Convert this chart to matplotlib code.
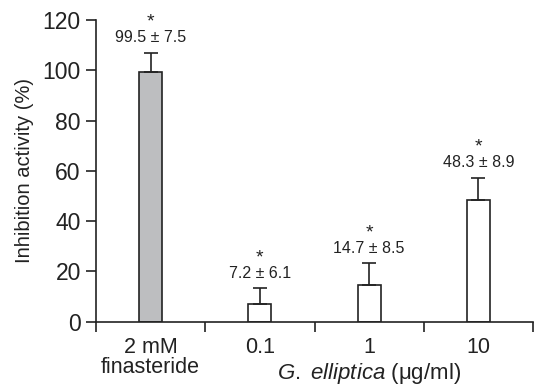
import matplotlib
matplotlib.use("Agg")
import matplotlib.pyplot as plt
from matplotlib.transforms import blended_transform_factory

plt.rcParams['font.family'] = ['Liberation Sans', 'DejaVu Sans']
plt.rcParams['mathtext.fontset'] = 'custom'
plt.rcParams['mathtext.rm'] = 'Liberation Sans'
plt.rcParams['mathtext.it'] = 'Liberation Sans:italic'

categories = ["2 mM\nfinasteride", "0.1", "1", "10"]
values = [99.5, 7.2, 14.7, 48.3]
errors = [7.5, 6.1, 8.5, 8.9]
colors = ["#bdbec0", "white", "white", "white"]
yticks = [0, 20, 40, 60, 80, 100, 120]

fig = plt.figure(figsize=(5.34, 3.91), dpi=100)
ax = fig.add_axes([0.18, 0.177, 0.818, 0.772])

x = list(range(len(categories)))
ax.bar(x, values, width=0.21, color=colors, edgecolor="#222222", linewidth=1.2,
       yerr=[[0]*len(values), errors], capsize=5,
       error_kw=dict(ecolor="#222222", elinewidth=1.2, capthick=1.2), zorder=2)

for xi, v, e in zip(x, values, errors):
    top = v + e
    ax.annotate(f"{v} ± {e}", (xi, top), xytext=(0, 5.5), textcoords="offset points",
                ha="center", va="bottom", fontsize=11.5, color="#222222", annotation_clip=False)
    ax.annotate("*", (xi, top), xytext=(0, 16), textcoords="offset points",
                ha="center", va="bottom", fontsize=14, color="#222222", annotation_clip=False)

ax.set_xlim(-0.5, 3.5)
ax.set_ylim(0, 120)
ax.set_yticks(yticks)
ax.set_xticks([-0.5, 0.5, 1.5, 2.5, 3.5])
ax.set_xticklabels([])
ax.set_xticks(x, minor=True)
ax.set_xticklabels(categories, minor=True, fontsize=15.5, color="#222222", linespacing=0.95)
ax.tick_params(axis="x", which="minor", length=0, pad=11)
ax.tick_params(axis="x", which="major", length=7, width=1.2, color="#222222", direction="out")
ax.tick_params(axis="y", length=7, width=1.2, color="#222222", labelsize=16.5, labelcolor="#222222", pad=4)

for s in ["top", "right"]:
    ax.spines[s].set_visible(False)
for s in ["left", "bottom"]:
    ax.spines[s].set_linewidth(1.2)
    ax.spines[s].set_color("#222222")

ax.set_ylabel("Inhibition activity (%)", fontsize=14.5, color="#222222", labelpad=6)

trans = blended_transform_factory(ax.transData, fig.transFigure)
ax.text(2, 1 - 374/391, r"$\it{G.}$ $\it{elliptica}$ (μg/ml)", transform=trans,
        ha="center", va="center", fontsize=16, color="#222222")

fig.savefig("out.png", dpi=100)
